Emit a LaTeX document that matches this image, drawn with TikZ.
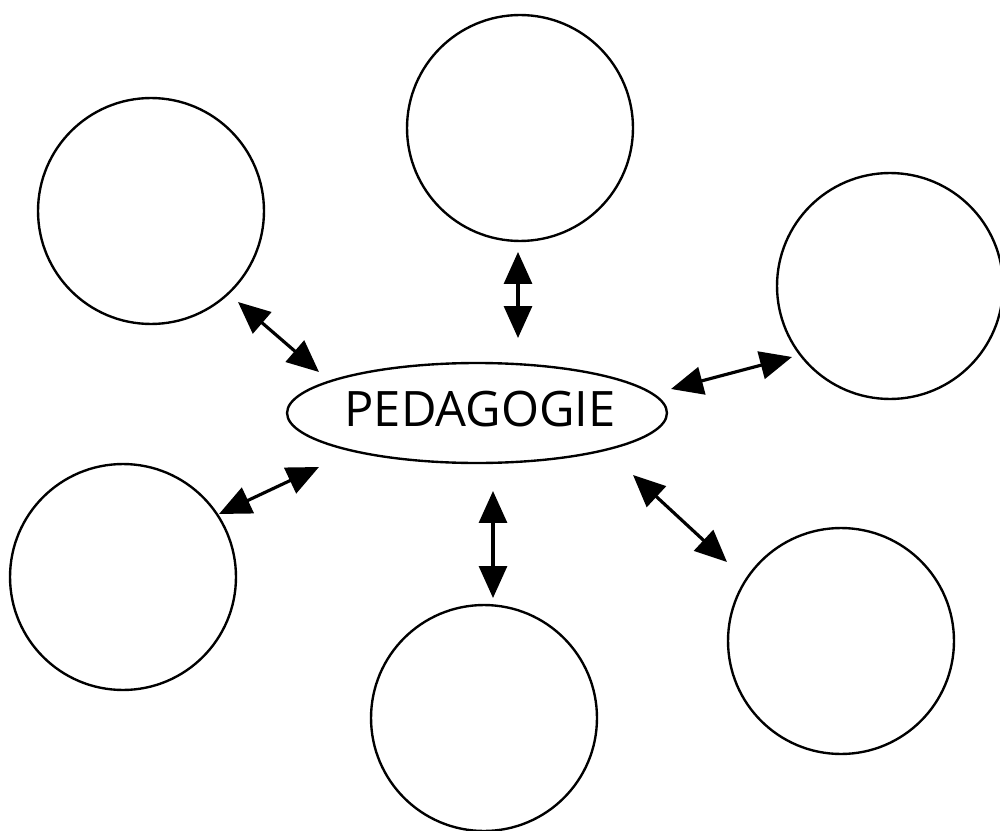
\documentclass[tikz,border=0pt]{standalone}
\usepackage{fontspec}
\setmainfont{Open Sans}
\usetikzlibrary{arrows.meta}
\usetikzlibrary{shapes.geometric}
\tikzset{
  bubble/.style={circle, draw=black, line width=1.35pt, minimum size=4.52cm, inner sep=0pt},
  centre/.style={ellipse, draw=black, line width=1.35pt, minimum width=7.6cm, minimum height=2.0cm, inner sep=0pt},
  link/.style={line width=1.8pt, {Triangle[length=0.64cm,width=0.56cm]}-{Triangle[length=0.64cm,width=0.56cm]}}
}
\begin{document}
\begin{tikzpicture}[x=0.02cm,y=-0.02cm]
\useasboundingbox (0,0) rectangle (1000,831);
\node[bubble] (top) at (520,128) {};
\node[bubble] (tl) at (151,211) {};
\node[bubble] (r) at (890,286) {};
\node[bubble] (bl) at (123,577) {};
\node[bubble] (b) at (484,718) {};
\node[bubble] (br) at (841,641) {};
\node[centre] (ped) at (477,413) {};
\node (lbl) at (480,409) {\fontsize{27.8}{30}\selectfont PEDAGOGIE};
\coordinate (a1) at (518,252); \coordinate (a2) at (518,338);
\coordinate (b1) at (238,302); \coordinate (b2) at (319,372);
\coordinate (c1) at (671,389); \coordinate (c2) at (792,357);
\coordinate (d1) at (219,514); \coordinate (d2) at (319,467);
\coordinate (e1) at (493,491); \coordinate (e2) at (493,598);
\coordinate (f1) at (633,475); \coordinate (f2) at (727,562);
\draw[link] (a1) -- (a2);
\draw[link] (b1) -- (b2);
\draw[link] (c1) -- (c2);
\draw[link] (d1) -- (d2);
\draw[link] (e1) -- (e2);
\draw[link] (f1) -- (f2);
\end{tikzpicture}
\end{document}
